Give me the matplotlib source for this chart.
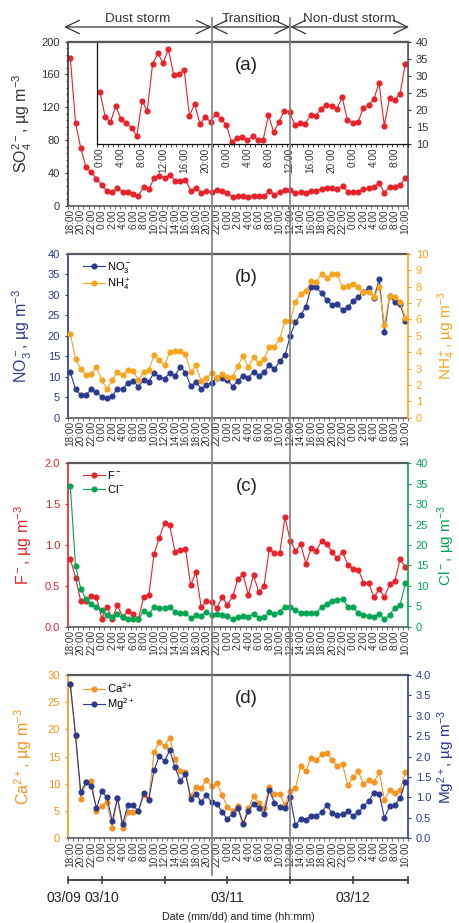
import numpy as np
import matplotlib
matplotlib.use("Agg")
import matplotlib.pyplot as plt
import matplotlib.transforms as mtrans
from matplotlib.lines import Line2D
from matplotlib.ticker import MultipleLocator, NullFormatter, FormatStrFormatter

plt.rcParams['font.family'] = ['Liberation Sans', 'DejaVu Sans']
plt.rcParams['mathtext.fontset'] = 'custom'
plt.rcParams['mathtext.rm'] = 'Liberation Sans'
plt.rcParams['mathtext.it'] = 'Liberation Sans:italic'
plt.rcParams['mathtext.bf'] = 'Liberation Sans:bold'

# hourly samples 03/09 18:00 -> 03/12 10:00 (65 points)
time_labels = ['18:00', '20:00', '22:00',
               '0:00', '2:00', '4:00', '6:00', '8:00', '10:00', '12:00', '14:00', '16:00', '18:00', '20:00', '22:00',
               '0:00', '2:00', '4:00', '6:00', '8:00', '10:00', '12:00', '14:00', '16:00', '18:00', '20:00', '22:00',
               '0:00', '2:00', '4:00', '6:00', '8:00', '10:00']
inset_labels = ['0:00', '4:00', '8:00', '12:00', '16:00', '20:00', '0:00', '4:00', '8:00',
                '12:00', '16:00', '20:00', '0:00', '4:00', '8:00']
inset_start = 6  # inset starts at 03/10 0:00
date_ticks = [-0.5, 6, 18, 30, 42, 54, 64.5]
date_labels = ['03/09', '03/10', '', '03/11', '', '03/12', '']
periods = ['Dust storm', 'Transition', 'Non-dust storm']
dust_end, transition_end = 27, 42

so4 = [180, 101, 70, 47, 40.6, 33, 25.2, 18.0, 16.4, 21.2, 17.3, 16.3, 14.6, 12.4, 22.6, 19.8,
       33.5, 36.6, 33.8, 37.8, 30.2, 30.5, 31.6, 18.2, 21.8, 15.8, 18.0, 16.5, 18.8, 17.4, 15.6,
       10.5, 11.8, 12.0, 11.2, 12.3, 11.3, 11.3, 18.4, 13.5, 16.5, 19.7, 19.4, 15.6, 16.1, 15.9,
       18.5, 18.3, 20.3, 21.5, 21.0, 20.4, 23.7, 17.0, 16.2, 16.4, 20.5, 21.5, 23.1, 27.9, 15.4,
       23.4, 22.9, 24.8, 33.5]
no3 = [11.1, 6.9, 5.6, 5.6, 6.9, 6.2, 5.1, 4.7, 5.3, 7.1,
       6.9, 8.5, 9.0, 7.6, 9.2, 8.8, 11.0, 10.0, 9.5, 11.0,
       10.2, 12.5, 11.0, 7.7, 8.7, 7.1, 7.9, 8.6, 9.6, 9.8,
       9.3, 7.6, 9.0, 10.3, 9.8, 11.2, 10.3, 11.1, 12.9, 11.9,
       13.8, 15.2, 20.0, 23.4, 25.1, 27.1, 31.9, 31.9, 30.4, 28.8,
       27.5, 27.7, 26.3, 27.0, 28.5, 29.4, 30.8, 31.6, 29.2, 33.9,
       21.0, 29.8, 28.2, 27.9, 23.7]
nh4 = [5.11, 3.56, 2.97, 2.61, 2.65, 3.08, 2.30, 1.73, 2.30, 2.81,
       2.61, 2.91, 2.85, 2.30, 2.79, 2.91, 3.85, 3.52, 3.20, 4.01,
       4.09, 4.09, 3.87, 2.79, 3.20, 2.22, 2.42, 2.71, 2.44, 2.65,
       2.51, 2.51, 3.16, 3.77, 3.08, 3.69, 3.32, 3.60, 4.34, 4.34,
       4.81, 5.93, 5.93, 7.09, 7.56, 7.74, 8.33, 8.31, 8.76, 8.51,
       8.76, 8.76, 7.96, 8.04, 8.17, 7.96, 7.66, 7.70, 7.39, 7.96,
       5.66, 7.45, 7.39, 7.09, 6.07]
fluo = [0.83, 0.60, 0.31, 0.31, 0.37, 0.36, 0.10, 0.24, 0.10, 0.26,
        0.12, 0.19, 0.16, 0.09, 0.36, 0.39, 0.89, 1.09, 1.27, 1.24,
        0.91, 0.94, 0.95, 0.51, 0.67, 0.24, 0.31, 0.30, 0.23, 0.36,
        0.27, 0.37, 0.58, 0.64, 0.39, 0.63, 0.42, 0.50, 0.95, 0.90,
        0.90, 1.34, 1.05, 0.93, 1.01, 0.77, 0.96, 0.93, 1.05, 1.01,
        0.91, 0.84, 0.91, 0.76, 0.71, 0.70, 0.54, 0.53, 0.36, 0.46,
        0.36, 0.52, 0.56, 0.83, 0.73]
chl = [34.4, 14.8, 9.3, 6.7, 5.6, 4.9, 4.1, 2.8, 2.4, 3.0,
       2.3, 2.0, 1.8, 1.8, 3.9, 3.0, 4.9, 4.5, 4.5, 4.9,
       3.6, 3.4, 3.4, 2.1, 2.8, 2.6, 3.6, 2.9, 3.0, 2.8,
       2.6, 1.8, 2.3, 2.7, 2.4, 3.1, 2.1, 2.4, 3.5, 3.1,
       3.7, 4.9, 4.9, 4.1, 3.3, 3.3, 3.3, 3.3, 4.9, 5.6,
       6.4, 6.6, 6.8, 4.9, 4.9, 3.3, 2.9, 2.7, 2.4, 3.1,
       1.9, 2.9, 4.7, 5.3, 10.8]
ca = [28.3, 18.8, 7.2, 10.3, 10.6, 5.1, 5.9, 6.6, 1.9, 7.4,
      1.9, 4.8, 4.8, 5.0, 7.9, 7.3, 15.9, 17.7, 17.0, 18.5,
      14.5, 12.4, 12.1, 7.7, 9.4, 9.2, 10.8, 9.6, 10.1, 7.9,
      5.8, 5.0, 5.9, 2.8, 5.5, 7.7, 6.5, 5.5, 9.4, 8.1,
      8.1, 6.2, 8.7, 9.2, 13.2, 12.3, 14.8, 14.3, 15.4, 15.6,
      14.4, 13.3, 13.6, 9.7, 11.3, 12.3, 10.0, 10.7, 10.3, 12.2,
      7.1, 8.8, 8.3, 8.9, 12.1]
mg = [3.77, 2.52, 1.13, 1.38, 1.28, 0.73, 1.15, 1.00, 0.42, 0.99,
      0.35, 0.81, 0.81, 0.66, 1.10, 0.95, 1.67, 2.01, 1.89, 2.16,
      1.74, 1.40, 1.58, 0.97, 1.09, 0.89, 1.05, 0.88, 0.85, 0.64,
      0.47, 0.60, 0.74, 0.35, 0.67, 0.85, 0.73, 0.60, 1.18, 0.87,
      0.77, 0.74, 1.01, 0.32, 0.48, 0.46, 0.55, 0.55, 0.64, 0.81,
      0.62, 0.58, 0.59, 0.66, 0.54, 0.64, 0.78, 0.91, 1.12, 1.09,
      0.50, 0.79, 0.81, 0.99, 1.38]

RED, NAVY, GOLD, GREEN, ORANGE = '#e8212a', '#2b3990', '#f8a51b', '#00a651', '#f7931e'
FRAME, TXT = '#5a5a5a', '#333333'
n = len(so4)
x = np.arange(n)
W_PX, H_PX = 460, 923
L0, R0 = 67.7, 408.0

fig = plt.figure(figsize=(W_PX / 100, H_PX / 100), dpi=100)


def box(top, bot, left=L0, right=R0):
    return [left / W_PX, 1 - bot / H_PX, (right - left) / W_PX, (bot - top) / H_PX]


def line(ax, y, c, label=None):
    return ax.plot(x, y, '-o', color=c, lw=0.8, ms=3.4, label=label, clip_on=False)[0]


def base(ax, lcol, ylab, lo, hi, step, fmt=None):
    ax.set_xlim(-0.5, n - 0.5)
    ax.set_xticks(np.arange(-0.5, n, 1.0))
    ax.xaxis.set_major_formatter(NullFormatter())
    ax.set_xticks(x[::2], time_labels, minor=True)
    ax.tick_params(axis='x', which='major', length=2.2, width=0.6, color=FRAME)
    ax.tick_params(axis='x', which='minor', length=0, pad=2.5, labelsize=7.2,
                   labelrotation=90, labelcolor=TXT)
    ax.spines['top'].set_color(FRAME); ax.spines['top'].set_linewidth(1.6)
    ax.spines['bottom'].set_color(FRAME); ax.spines['bottom'].set_linewidth(1.2)
    ax.spines['left'].set_color(lcol); ax.spines['left'].set_linewidth(1.2)
    ax.set_ylim(lo, hi)
    ax.set_yticks(np.arange(lo, hi + step / 2, step))
    if fmt:
        ax.yaxis.set_major_formatter(FormatStrFormatter(fmt))
    ax.tick_params(axis='y', which='major', colors=lcol, labelsize=8, length=2.5, width=0.8, pad=3)
    ax.set_ylabel(ylab, fontsize=11.5, color=lcol)
    ax.yaxis.set_label_coords(-0.10, 0.5)


def twin(ax, rcol, ylab, lo, hi, step, fmt=None):
    axr = ax.twinx()
    for s in ('left', 'top', 'bottom'):
        axr.spines[s].set_visible(False)
    ax.spines['right'].set_visible(False)
    axr.spines['right'].set_color(rcol); axr.spines['right'].set_linewidth(1.2)
    axr.set_ylim(lo, hi)
    axr.set_yticks(np.arange(lo, hi + step / 2, step))
    if fmt:
        axr.yaxis.set_major_formatter(FormatStrFormatter(fmt))
    axr.tick_params(axis='y', colors=rcol, labelsize=8, length=2.5, width=0.8, pad=3)
    axr.set_ylabel(ylab, fontsize=11, color=rcol)
    axr.yaxis.set_label_coords(1.08, 0.5)
    return axr


def legend(ax, handles):
    ax.legend(handles=handles, loc='upper left', bbox_to_anchor=(0.045, 0.965), frameon=False,
              fontsize=8, handlelength=2.0, handletextpad=0.2, labelspacing=0.15,
              borderpad=0, borderaxespad=0)


def panel_tag(ax, s, ref=None):
    ax.text(0.526, 0.857, s, transform=(ref or ax).transAxes, fontsize=13.5, color='#222',
            ha='center', va='center', zorder=10)


# (a) SO4 with zoom inset
ax_a = fig.add_axes(box(41.7, 205.7))
line(ax_a, so4, RED)
base(ax_a, TXT, r'SO$_4^{2-}$, µg m$^{-3}$', 0, 200, 40)
ax_a.spines['right'].set_color(FRAME); ax_a.spines['right'].set_linewidth(1.2)
ax_a.yaxis.set_minor_locator(MultipleLocator(8))
ax_a.tick_params(axis='y', which='minor', length=1.5, width=0.6, color=TXT)

ax_in = fig.add_axes(box(41.7, 144, left=97.3))
xi = np.arange(n - inset_start)
ax_in.plot(xi, so4[inset_start:], '-o', color=RED, lw=0.8, ms=3.4, clip_on=False)
ax_in.set_xlim(-0.5, len(xi) - 0.5)
ax_in.set_ylim(10, 40)
ax_in.yaxis.tick_right()
ax_in.set_yticks(np.arange(10, 41, 5))
ax_in.tick_params(axis='y', colors=TXT, labelsize=8, length=2.5, width=0.8, pad=3)
ax_in.set_xticks(np.arange(-0.5, len(xi), 1.0))
ax_in.xaxis.set_major_formatter(NullFormatter())
ax_in.set_xticks(xi[::4], inset_labels, minor=True)
ax_in.tick_params(axis='x', which='major', length=2.2, width=0.6, color='#222')
ax_in.tick_params(axis='x', which='minor', length=0, pad=2.5, labelsize=7.2,
                  labelrotation=90, labelcolor=TXT)
for s in ('left', 'bottom'):
    ax_in.spines[s].set_color('#111'); ax_in.spines[s].set_linewidth(0.9)
ax_in.spines['top'].set_color(FRAME); ax_in.spines['top'].set_linewidth(1.6)
ax_in.spines['right'].set_color(FRAME); ax_in.spines['right'].set_linewidth(1.2)
panel_tag(ax_in, '(a)', ref=ax_a)

# (b) NO3 / NH4
ax_b = fig.add_axes(box(254, 417.7))
h1 = line(ax_b, no3, NAVY, r'NO$_3^-$')
base(ax_b, NAVY, r'NO$_3^-$, µg m$^{-3}$', 0, 40, 5)
ax_br = twin(ax_b, GOLD, r'NH$_4^+$, µg m$^{-3}$', 0, 10, 1)
h2 = line(ax_br, nh4, GOLD, r'NH$_4^+$')
legend(ax_br, [h1, h2])
panel_tag(ax_br, '(b)')

# (c) F / Cl
ax_c = fig.add_axes(box(463.3, 626.7))
h1 = line(ax_c, fluo, RED, r'F$^-$')
base(ax_c, RED, r'F$^-$, µg m$^{-3}$', 0, 2.0, 0.5, '%.1f')
ax_cr = twin(ax_c, GREEN, r'Cl$^-$, µg m$^{-3}$', 0, 40, 5)
h2 = line(ax_cr, chl, GREEN, r'Cl$^-$')
legend(ax_cr, [h1, h2])
panel_tag(ax_cr, '(c)')

# (d) Ca / Mg
ax_d = fig.add_axes(box(675, 838.3))
h1 = line(ax_d, ca, ORANGE, r'Ca$^{2+}$')
base(ax_d, ORANGE, r'Ca$^{2+}$, µg m$^{-3}$', 0, 30, 5)
ax_dr = twin(ax_d, NAVY, r'Mg$^{2+}$, µg m$^{-3}$', 0, 4.0, 0.5, '%.1f')
h2 = line(ax_dr, mg, NAVY, r'Mg$^{2+}$')
legend(ax_dr, [h1, h2])
panel_tag(ax_dr, '(d)')

# date axis under the panels
ax_t = fig.add_axes([L0 / W_PX, 1 - 880 / H_PX, (R0 - L0) / W_PX, 0.0005])
ax_t.set_xlim(-0.5, n - 0.5)
ax_t.patch.set_visible(False)
for s in ('left', 'right', 'top'):
    ax_t.spines[s].set_visible(False)
ax_t.spines['bottom'].set_color('#444'); ax_t.spines['bottom'].set_linewidth(1.4)
ax_t.set_yticks([])
ax_t.set_xticks(date_ticks, [''] + date_labels[1:])
ax_t.tick_params(axis='x', direction='inout', length=6, width=1.2, color='#444',
                 labelsize=10, labelcolor='#222', pad=5)
# first date label sits a little left of its tick so it clears the next one
ax_t.annotate(date_labels[0], xy=(date_ticks[0], 0), xycoords=('data', 'axes fraction'),
              xytext=(-2.5, -8.0), textcoords='offset points', ha='center', va='top',
              fontsize=10, color='#222', annotation_clip=False)
fig.text(0.518, 1 - 920 / H_PX, 'Date (mm/dd) and time (hh:mm)', fontsize=7.7,
         color='#222', ha='center', va='baseline')

# period dividers and header arrows
tr = mtrans.blended_transform_factory(ax_a.transData, fig.transFigure)
for xd in (dust_end, transition_end):
    fig.add_artist(Line2D([xd, xd], [1 - 875 / H_PX, 1 - 18 / H_PX], transform=tr,
                          color='#7f7f7f', lw=1.2, zorder=5))
edges = [-1.2, dust_end, transition_end, n - 0.3]
y_arr = 1 - 27 / H_PX
for name, a, b in zip(periods, edges[:-1], edges[1:]):
    ax_a.annotate('', xy=(b, y_arr), xytext=(a, y_arr), xycoords=('data', 'figure fraction'),
                  annotation_clip=False,
                  arrowprops=dict(arrowstyle='<->,head_length=1.0,head_width=0.48',
                                  mutation_scale=10, color='#333', lw=0.9,
                                  shrinkA=0, shrinkB=0))
    ax_a.text((a + b) / 2, 1 - 21.7 / H_PX, name, transform=tr, fontsize=9.7,
              color='#333', ha='center', va='baseline')

fig.savefig('out.png', dpi=100)
